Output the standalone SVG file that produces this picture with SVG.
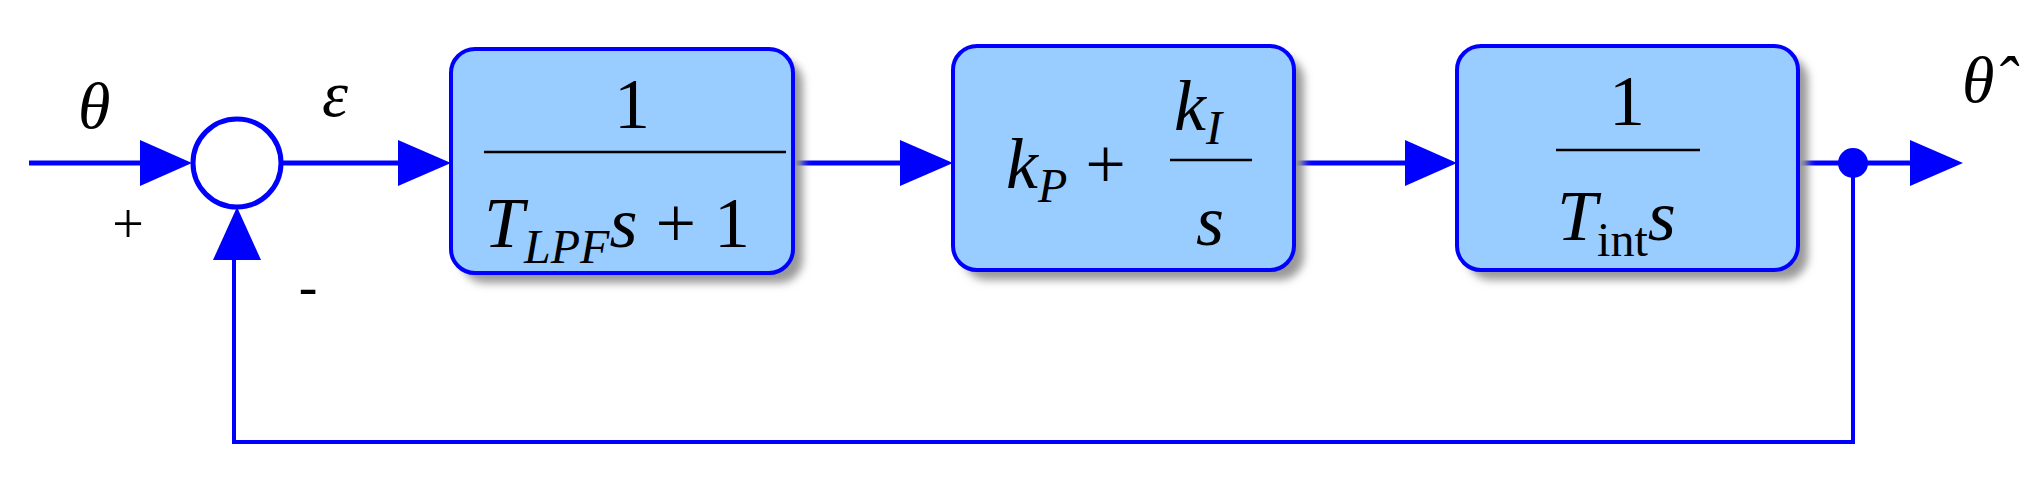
<svg xmlns="http://www.w3.org/2000/svg" width="2038" height="479" viewBox="0 0 2038 479">
<defs>
<marker id="ah" markerWidth="10" markerHeight="10" refX="10" refY="5" orient="auto" markerUnits="userSpaceOnUse" viewBox="0 0 10 10"><path d="M0,0 L10,5 L0,10 z" fill="#0000ff"/></marker>
<filter id="sh" x="-10%" y="-10%" width="130%" height="130%"><feGaussianBlur stdDeviation="4"/></filter>
</defs>
<style>
.box{fill:#99ccff;stroke:#0000ff;stroke-width:4}
.shd{fill:#999;filter:url(#sh)}
.ln{stroke:#0000ff;stroke-width:5;fill:none}
.fb{stroke:#0000ff;stroke-width:4;fill:none}
.t{font-family:"Liberation Serif",serif;font-style:italic;fill:#000}
.r{font-family:"Liberation Serif",serif;fill:#000}
.frac{stroke:#000;stroke-width:2.5}
</style>
<rect width="2038" height="479" fill="#fff"/>
<g id="connectors">
<path class="ln" d="M29,163 H140"/><path d="M140,140 L192,163 L140,186 z" fill="#0000ff"/>
<path class="ln" d="M281,163 H400"/><path d="M398,140 L451,163 L398,186 z" fill="#0000ff"/>
<path class="ln" d="M793,163 H900"/><path d="M900,140 L953,163 L900,186 z" fill="#0000ff"/>
<path class="ln" d="M1294,163 H1405"/><path d="M1405,140 L1457,163 L1405,186 z" fill="#0000ff"/>
<path class="ln" d="M1798,163 H1912"/><path d="M1910,140 L1963,163 L1910,186 z" fill="#0000ff"/>
<circle cx="1853" cy="163" r="15" fill="#0000ff"/>
<path class="fb" d="M1853,163 V442 H234 V250"/><path d="M213,260 L237,207 L261,260 z" fill="#0000ff"/>
</g>
<g id="sum"><circle cx="237" cy="163" r="44" fill="#fff" stroke="#0000ff" stroke-width="5"/></g>
<g id="lpf">
<rect class="shd" x="461" y="59" width="342" height="224" rx="24"/>
<rect class="box" x="451" y="49" width="342" height="224" rx="24"/>
<text class="r" x="632" y="128" font-size="72" text-anchor="middle">1</text>
<line class="frac" x1="484" y1="152" x2="786" y2="152"/>
<text class="t" x="484" y="247" font-size="72">T<tspan font-size="48" dy="16">LPF</tspan><tspan dy="-16">s</tspan><tspan font-style="normal"> + 1</tspan></text>
</g>
<g id="pi">
<rect class="shd" x="963" y="56" width="341" height="224" rx="24"/>
<rect class="box" x="953" y="46" width="341" height="224" rx="24"/>
<text class="t" x="1006" y="188" font-size="72">k<tspan font-size="48" dy="14">P</tspan><tspan font-style="normal" dy="-14"> +</tspan></text>
<text class="t" x="1174" y="130" font-size="72">k<tspan font-size="48" dy="14">I</tspan></text>
<line class="frac" x1="1170" y1="160" x2="1252" y2="160"/>
<text class="t" x="1210" y="245" font-size="72" text-anchor="middle">s</text>
</g>
<g id="int">
<rect class="shd" x="1467" y="56" width="341" height="224" rx="24"/>
<rect class="box" x="1457" y="46" width="341" height="224" rx="24"/>
<text class="r" x="1627" y="125" font-size="72" text-anchor="middle">1</text>
<line class="frac" x1="1556" y1="150" x2="1700" y2="150"/>
<text class="t" x="1557" y="240" font-size="72">T<tspan font-style="normal" font-size="48" dy="16">int</tspan><tspan dy="-16">s</tspan></text>
</g>
<g id="labels">
<text class="t" x="78" y="128" font-size="66">θ</text>
<text class="t" x="322" y="116" font-size="66">ε</text>
<text class="r" x="128" y="243" font-size="56" text-anchor="middle">+</text>
<text class="r" x="308" y="305" font-size="56" text-anchor="middle">-</text>
<text class="t" x="1962" y="102" font-size="66">θ̂</text>
</g>
</svg>
